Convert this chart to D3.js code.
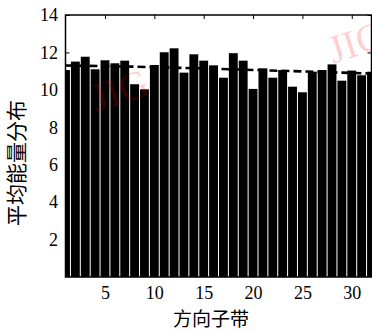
<!DOCTYPE html>
<html><head><meta charset="utf-8">
<script src="https://cdn.jsdelivr.net/npm/d3@7/dist/d3.min.js"></script>
<style>body{margin:0;background:#fff}svg{display:block}</style>
</head><body>
<svg id="chart" width="372" height="331"></svg>
<script>
// Data
const subbands = [1,2,3,4,5,6,7,8,9,10,11,12,13,14,15,16,17,18,19,20,21,22,23,24,25,26,27,28,29,30,31,32];
const energy = [11.06,11.51,11.77,11.10,11.58,11.42,11.56,10.30,10.03,11.33,12.01,12.22,10.92,11.90,11.56,11.31,10.65,11.96,11.56,10.05,11.15,10.65,11.06,10.17,9.87,10.97,11.06,11.36,10.49,11.03,10.78,10.97];
const trendX = [1,8,16,24,32];
const trendY = [11.30,11.24,11.13,11.00,10.87];
const yTicks = [2,4,6,8,10,12,14];
const xTicks = [5,10,15,20,25,30];
const yLabel = "平均能量分布";
const xLabel = "方向子带";
const watermark = "JIG";

const L = 65.5, R = 371.5, T = 15, B = 277;
const svg = d3.select("#chart");
const x = d3.scaleLinear().domain([1,32]).range([L,R]);
const y = d3.scaleLinear().domain([0,14]).range([B,T]);

svg.append("defs").append("clipPath").attr("id","plot")
  .append("rect").attr("x",L).attr("y",T).attr("width",R-L).attr("height",B-T);

const plot = svg.append("g").attr("clip-path","url(#plot)");
plot.selectAll("rect.bar").data(subbands).join("rect")
  .attr("class","bar")
  .attr("x", d => x(d-0.5)+0.5)
  .attr("width", d => x(d+0.5)-x(d-0.5)-1)
  .attr("y", (d,i) => y(energy[i]))
  .attr("height", (d,i) => B - y(energy[i]))
  .attr("fill","#000");

plot.append("path")
  .datum(trendX.map((d,i)=>[d,trendY[i]]))
  .attr("d", d3.line().x(d=>x(d[0])).y(d=>y(d[1])))
  .attr("fill","none").attr("stroke","#000").attr("stroke-width",2.6)
  .attr("stroke-dasharray","8,4");

const font = "'Liberation Serif','Times New Roman',serif";

// axes
const ay = svg.append("g").attr("transform",`translate(${L},0)`)
  .call(d3.axisLeft(y).tickValues(yTicks).tickSizeInner(-4).tickSizeOuter(0).tickPadding(7.5));
ay.select(".domain").remove();
ay.selectAll("text").attr("font-family",font).attr("font-size",18).attr("fill","#000");

const ayr = svg.append("g").attr("transform",`translate(${R},0)`)
  .call(d3.axisRight(y).tickValues(yTicks).tickSizeInner(-4).tickSizeOuter(0).tickFormat(""));
ayr.select(".domain").remove();

const at = svg.append("g").attr("transform",`translate(0,${T})`)
  .call(d3.axisBottom(x).tickValues(xTicks).tickSizeInner(4).tickSizeOuter(0).tickFormat(""));
at.select(".domain").remove();

const ab = svg.append("g").attr("transform",`translate(0,${B})`)
  .call(d3.axisBottom(x).tickValues(xTicks).tickSizeInner(-4).tickSizeOuter(0).tickPadding(9));
ab.select(".domain").remove();
ab.selectAll("text").attr("font-family",font).attr("font-size",18).attr("fill","#000");

// frame
svg.append("rect").attr("x",L).attr("y",T).attr("width",R-L).attr("height",B-T)
  .attr("fill","none").attr("stroke","#000").attr("stroke-width",1.5);

// labels
svg.append("text").attr("transform","translate(24,163) rotate(-90)")
  .attr("text-anchor","middle").attr("font-family","'Noto Sans CJK SC',sans-serif")
  .attr("font-size",21).attr("fill","#000").text(yLabel);
svg.append("text").attr("x",211).attr("y",326)
  .attr("text-anchor","middle").attr("font-family","'Noto Sans CJK SC',sans-serif")
  .attr("font-size",19).attr("fill","#000").text(xLabel);

// watermarks
[[96,112],[333,64]].forEach(p=>{
  svg.append("text").attr("transform",`translate(${p[0]},${p[1]}) rotate(-18)`)
    .attr("font-family",font).attr("font-size",40)
    .attr("fill","rgba(255,0,0,0.2)").text(watermark);
});
</script>
</body></html>
